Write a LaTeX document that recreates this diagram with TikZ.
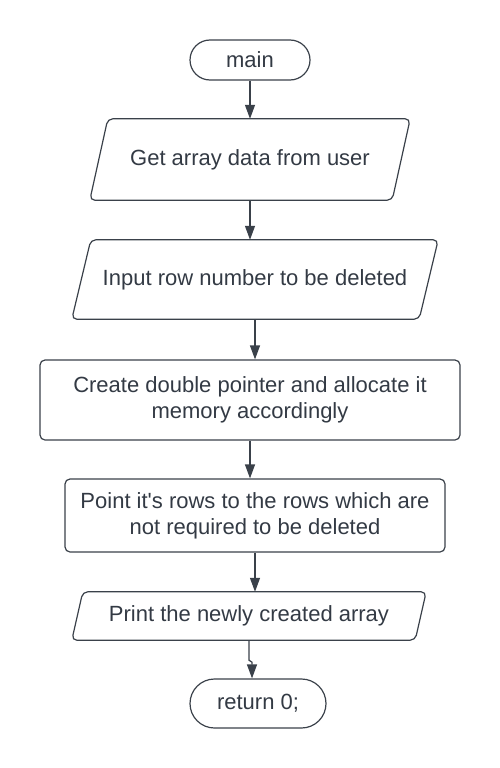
\documentclass[tikz,border=0pt]{standalone}
\usepackage{fontspec}
\newfontfamily\lfont{Liberation Sans}
\usetikzlibrary{calc,arrows.meta}
\definecolor{ln}{HTML}{3A414A}
\definecolor{tx}{HTML}{333A44}
\tikzset{
  base/.style={inner sep=0pt, font=\lfont\fontsize{22}{26}\selectfont, text=tx, align=center},
  term/.style={base, draw=ln, line width=1.2pt, rectangle, rounded corners=#1},
  box/.style={base, draw=ln, line width=1.2pt, rectangle, rounded corners=5pt},
  pbox/.style={base, rectangle},
  pshape/.style={draw=ln, line width=1.2pt, rounded corners=5pt},
  arr/.style={draw=ln, line width=1.2pt, -{Triangle[length=14pt,width=10pt]}}
}
\begin{document}
\begin{tikzpicture}[x=1pt,y=-1pt]
\useasboundingbox (0,0) rectangle (500,768);
\node[term=20pt, minimum width=120pt, minimum height=40pt] (main) at (250,60) {main};
\node[pbox, minimum width=320pt, minimum height=81pt] (p1) at (250,159.5) {Get array data from user};
\draw[pshape] ($(p1.north west)+(18,0)$) -- (p1.north east) -- ($(p1.south east)+(-18,0)$) -- (p1.south west) -- cycle;
\node[pbox, minimum width=366pt, minimum height=79pt] (p2) at (255,279.5) {Input row number to be deleted};
\draw[pshape] ($(p2.north west)+(19,0)$) -- (p2.north east) -- ($(p2.south east)+(-19,0)$) -- (p2.south west) -- cycle;
\node[box, minimum width=420pt, minimum height=80pt] (r3) at (250,400) {Create double pointer and allocate it\\memory accordingly};
\node[box, minimum width=380pt, minimum height=73pt] (r4) at (255,515.5) {Point it's rows to the rows which are\\not required to be deleted};
\node[pbox, minimum width=354pt, minimum height=48pt] (p5) at (249,616) {Print the newly created array};
\draw[pshape] ($(p5.north west)+(11,0)$) -- (p5.north east) -- ($(p5.south east)+(-11,0)$) -- (p5.south west) -- cycle;
\node[term=24.5pt, minimum width=136pt, minimum height=49pt] (ret) at (258,703.5) {return 0;};
\draw[arr] (main) -- (p1);
\draw[arr] (p1.south) -- (p2.north -| p1.south);
\draw[arr] (p2.south) -- (r3.north -| p2.south);
\draw[arr] (r3.south) -- (r4.north -| r3.south);
\draw[arr] (r4.south) -- (p5.north -| r4.south);
\draw[arr] (p5.south) -- ++(0,20) -- ++(3,2) -- ([xshift=-6pt]ret.north);
\end{tikzpicture}
\end{document}
